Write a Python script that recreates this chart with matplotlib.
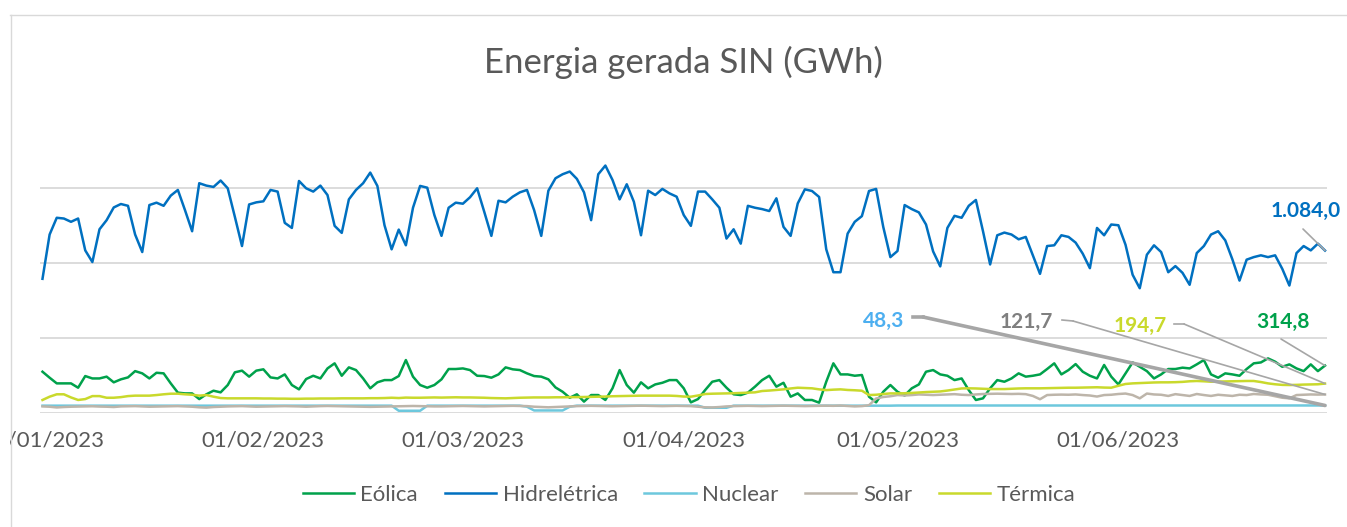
import matplotlib.pyplot as plt
import matplotlib.dates as mdates
from matplotlib.lines import Line2D
from matplotlib.transforms import Bbox, TransformedBbox
import numpy as np
import pandas as pd

plt.rcParams['font.family'] = ['Lato', 'DejaVu Sans']

# daily values, 01/01/2023 .. 30/06/2023 (GWh)
dias = pd.date_range("2023-01-01", "2023-06-30", freq="D")

hidreletrica = [
    895, 1191, 1303, 1298, 1276, 1298, 1085, 1007, 1226, 1287,
    1372, 1395, 1383, 1191, 1074, 1388, 1404, 1383, 1451, 1489,
    1354, 1213, 1534, 1518, 1509, 1552, 1500, 1309, 1114, 1392,
    1406, 1413, 1489, 1478, 1269, 1235, 1549, 1500, 1478, 1518,
    1455, 1249, 1202, 1426, 1489, 1534, 1605, 1516, 1253, 1092,
    1224, 1119, 1370, 1516, 1504, 1321, 1182, 1370, 1404, 1397,
    1440, 1500, 1343, 1182, 1417, 1406, 1444, 1473, 1489, 1354,
    1182, 1484, 1567, 1594, 1612, 1563, 1473, 1287, 1594, 1652,
    1556, 1426, 1527, 1410, 1186, 1484, 1455, 1496, 1466, 1444,
    1321, 1249, 1478, 1478, 1426, 1370, 1164, 1226, 1130, 1383,
    1370, 1361, 1348, 1433, 1242, 1182, 1399, 1493, 1482, 1442,
    1092, 939, 939, 1197, 1276, 1314, 1482, 1496, 1242, 1040,
    1081, 1388, 1361, 1339, 1258, 1078, 978, 1235, 1316, 1303,
    1383, 1422, 1213, 991, 1186, 1204, 1191, 1159, 1175, 1052,
    928, 1114, 1119, 1186, 1175, 1137, 1063, 966, 1235, 1186,
    1258, 1253, 1123, 922, 832, 1056, 1119, 1074, 939, 980,
    935, 855, 1067, 1114, 1191, 1213, 1152, 1025, 883, 1023,
    1040, 1052, 1040, 1052, 962, 850, 1067, 1114, 1085, 1130,
    1084.0,
]

eolica = [
    274, 234, 196, 196, 196, 167, 245, 229, 229, 241,
    203, 223, 236, 278, 263, 229, 267, 263, 196, 134,
    129, 129, 91, 123, 147, 136, 185, 270, 281, 241,
    281, 290, 236, 229, 256, 185, 156, 225, 247, 229,
    296, 330, 247, 303, 285, 229, 163, 203, 218, 218,
    245, 352, 241, 185, 167, 185, 223, 292, 292, 296,
    285, 247, 245, 234, 256, 303, 290, 285, 263, 245,
    241, 223, 169, 140, 100, 123, 74, 118, 118, 85,
    163, 285, 185, 134, 203, 163, 189, 200, 218, 218,
    163, 69, 91, 151, 207, 218, 167, 123, 118, 134,
    174, 218, 247, 174, 200, 107, 129, 85, 85, 67,
    207, 330, 256, 256, 247, 252, 107, 69, 140, 185,
    140, 115, 163, 189, 274, 285, 256, 247, 218, 229,
    151, 85, 96, 163, 218, 207, 229, 263, 241, 247,
    256, 292, 330, 256, 285, 325, 274, 247, 229, 319,
    241, 189, 263, 336, 307, 278, 229, 256, 292, 292,
    301, 296, 323, 352, 256, 234, 263, 256, 247, 292,
    330, 336, 363, 341, 307, 323, 296, 278, 323, 278,
    314.8,
]

termica = [
    85, 107, 123, 123, 102, 85, 91, 111, 111, 100,
    100, 104, 111, 114, 114, 114, 118, 123, 127, 127,
    123, 120, 114, 118, 107, 98, 96, 96, 96, 96,
    96, 95, 95, 94, 94, 93, 93, 94, 94, 95,
    95, 95, 96, 96, 96, 96, 97, 97, 98, 100,
    98, 101, 100, 100, 101, 102, 101, 102, 103, 102,
    102, 101, 100, 98, 97, 96, 98, 100, 101, 102,
    102, 102, 103, 103, 104, 104, 105, 106, 107, 108,
    110, 111, 112, 113, 114, 114, 114, 114, 114, 112,
    108, 107, 115, 125, 127, 128, 129, 130, 132, 134,
    136, 145, 148, 152, 156, 162, 167, 165, 163, 156,
    151, 154, 156, 152, 150, 147, 118, 120, 125, 129,
    129, 130, 132, 135, 138, 140, 142, 148, 155, 162,
    163, 162, 160, 158, 158, 158, 160, 162, 163, 163,
    163, 164, 165, 166, 167, 167, 168, 169, 170, 168,
    167, 180, 192, 196, 198, 200, 202, 203, 203, 204,
    206, 210, 212, 210, 207, 208, 209, 210, 211, 212,
    212, 205, 196, 190, 186, 185, 186, 188, 189, 190,
    194.7,
]

solar = [
    42, 40, 35, 38, 40, 41, 42, 43, 41, 40,
    38, 42, 43, 44, 42, 40, 41, 42, 43, 44,
    42, 40, 36, 34, 38, 40, 42, 43, 44, 42,
    40, 41, 42, 43, 44, 43, 42, 40, 42, 44,
    45, 44, 43, 42, 41, 40, 39, 40, 41, 42,
    43, 44, 45, 44, 43, 42, 42, 43, 44, 45,
    44, 43, 42, 43, 44, 45, 46, 45, 44, 40,
    38, 36, 38, 40, 42, 44, 45, 46, 45, 44,
    43, 44, 45, 46, 47, 46, 45, 44, 45, 46,
    45, 44, 40, 36, 35, 38, 42, 44, 45, 46,
    45, 44, 45, 46, 47, 46, 45, 44, 45, 46,
    47, 46, 48, 45, 42, 44, 50, 95, 105, 110,
    118, 115, 118, 122, 120, 118, 120, 122, 124, 120,
    118, 122, 125, 126, 127, 126, 125, 126, 124, 112,
    90, 118, 120, 121, 120, 122, 118, 115, 108, 118,
    120, 125, 128, 118, 96, 128, 122, 120, 112, 124,
    118, 112, 125, 118, 112, 120, 116, 112, 120, 118,
    125, 122, 120, 110, 100, 96, 118, 120, 122, 121,
    121.7,
]

nuclear = [
    47, 47, 47, 47, 47, 47, 47, 47, 47, 47,
    47, 47, 47, 47, 47, 47, 47, 47, 47, 47,
    47, 47, 47, 47, 47, 47, 47, 47, 47, 47,
    47, 47, 47, 47, 47, 47, 47, 47, 47, 47,
    47, 47, 47, 47, 47, 47, 47, 47, 47, 47,
    13, 13, 13, 13, 47, 47, 47, 47, 47, 47,
    47, 47, 47, 47, 47, 47, 47, 47, 40, 15,
    15, 15, 15, 15, 40, 47, 47, 47, 47, 47,
    47, 47, 47, 47, 47, 47, 47, 47, 47, 47,
    47, 47, 47, 33, 33, 33, 33, 47, 47, 47,
    47, 47, 47, 47, 47, 47, 47, 47, 47, 47,
    47, 47, 47, 47, 47, 47, 47, 47, 47, 47,
    48, 48, 48, 48, 48, 48, 48, 48, 48, 48,
    48, 48, 48, 48, 48, 48, 48, 48, 48, 48,
    48, 48, 48, 48, 48, 48, 48, 48, 48, 48,
    48, 48, 48, 48, 48, 48, 48, 48, 48, 48,
    48, 48, 48, 48, 48, 48, 48, 48, 48, 48,
    48, 48, 48, 48, 48, 48, 48, 48, 48, 48,
    48.3,
]

series = ["Eólica", "Hidrelétrica", "Nuclear", "Solar", "Térmica"]
valores = [eolica, hidreletrica, nuclear, solar, termica]
cores = ["#00A14B", "#0070C0", "#6DC8DD", "#BDB5AA", "#C9D92C"]
cores_rotulo = ["#00A14B", "#0070C0", "#4DAFF0", "#7F7F7F", "#C9D92C"]
# label positions in image pixels (x, y from top) and leader start
rotulos_pos = [(1283, 322), (1306, 211), (884, 321), (1026, 322), (1140, 326)]
lider_ini = [[(1281, 339)], [(1303, 229)], [(913, 317), (923, 317)],
             [(1062, 320), (1073, 321)], [(1174, 324), (1184, 324)]]
lider_lw = [1.2, 1.2, 2.6, 1.2, 1.2]

W, H = 1347, 527
fig = plt.figure(figsize=(W / 100, H / 100), dpi=100)
ax = fig.add_axes([40 / W, (H - 412.7) / H, 1287 / W, 299.2 / H])

# draw order like Excel: later series on top
for nome, v, c in zip(series, valores, cores):
    ax.plot(dias, v, color=c, lw=1.8, label=nome, solid_joinstyle="round")

ax.set_ylim(0, 2000)
ax.set_yticks([0, 500, 1000, 1500, 2000])
ax.yaxis.grid(True, color="#D9D9D9", lw=1.3)
ax.set_axisbelow(True)
ax.tick_params(axis="y", left=False, labelleft=False)
for s in ax.spines.values():
    s.set_visible(False)

ax.set_xlim(dias[0] - pd.Timedelta(days=0.35), dias[0] + pd.Timedelta(days=180.28))
ax.xaxis.set_major_locator(mdates.MonthLocator())
ax.xaxis.set_major_formatter(mdates.DateFormatter("%d/%m/%Y"))
ax.tick_params(axis="x", length=0, pad=13, labelsize=16, labelcolor="#595959")

fig.canvas.draw()
# first date label is cut by the chart frame, as in the original
clip = TransformedBbox(Bbox([[10 / W, 0], [1, 1]]), fig.transFigure)
for lbl in ax.get_xticklabels():
    lbl.set_clip_box(clip)
    lbl.set_clip_on(True)

def px(x, y):
    return (x, H - y)

# data labels + leader lines
for i, v in enumerate(valores):
    txt = f"{v[-1]:,.1f}".replace(",", "X").replace(".", ",").replace("X", ".")
    lx, ly = rotulos_pos[i]
    fig.text(lx / W, 1 - ly / H, txt, ha="center", va="center", fontsize=15,
             fontweight="bold", color=cores_rotulo[i])
    pts = lider_ini[i]
    if len(pts) > 1:
        xs = [p[0] for p in pts]
        ys = [H - p[1] for p in pts]
        fig.add_artist(Line2D(xs, ys, transform=None, color="#A6A6A6", lw=lider_lw[i]))
    ax.annotate("", xy=(dias[-1], v[-1]), xycoords="data",
                xytext=px(*pts[-1]), textcoords="figure pixels",
                arrowprops=dict(arrowstyle="-", color="#A6A6A6", lw=lider_lw[i],
                                shrinkA=0, shrinkB=0))

fig.text(683 / W, 1 - 62 / H, "Energia gerada SIN (GWh)", ha="center", va="center",
         fontsize=25, color="#595959")

fig.legend(loc="center", bbox_to_anchor=(689 / W, 1 - 495 / H), ncol=5, frameon=False,
           fontsize=16, labelcolor="#595959", handlelength=2.3, handletextpad=0.3,
           columnspacing=1.2)

# chart frame
fig.add_artist(Line2D([10.5, 10.5], [0, H - 15], transform=None, color="#D9D9D9", lw=1))
fig.add_artist(Line2D([10, W], [H - 15, H - 15], transform=None, color="#D9D9D9", lw=1))

fig.savefig("out.png", dpi=100)
